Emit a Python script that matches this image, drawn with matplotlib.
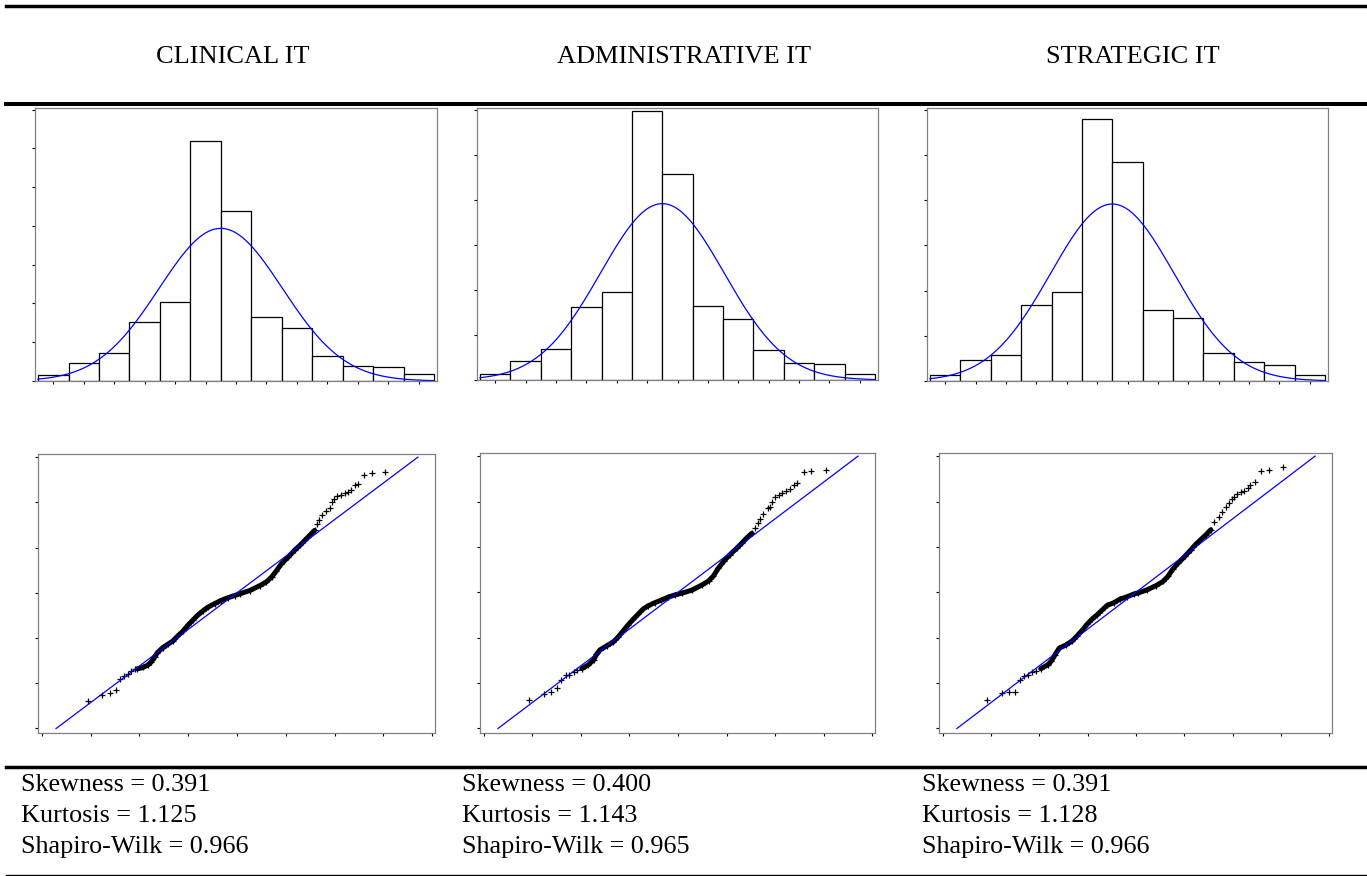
import numpy as np
import matplotlib
matplotlib.use("Agg")
import matplotlib.pyplot as plt
from matplotlib.lines import Line2D

# --- dados ---------------------------------------------------------------
groups = ["CLINICAL IT", "ADMINISTRATIVE IT", "STRATEGIC IT"]

# centros das classes do histograma (escala 1-7, classes de 0.5)
bin_centers = [1.0, 1.5, 2.0, 2.5, 3.0, 3.5, 4.0, 4.5, 5.0, 5.5, 6.0, 6.5, 7.0]

# percentual por classe
clinical_pct = [0.73, 2.37, 3.57, 7.58, 10.16, 31.01, 21.88, 8.27, 6.85, 3.19, 1.98, 1.81, 0.95]
admin_pct = [0.70, 2.07, 3.48, 8.07, 9.81, 29.93, 22.89, 8.22, 6.81, 3.33, 1.93, 1.74, 0.70]
strategic_pct = [0.70, 2.28, 2.84, 8.39, 9.83, 29.05, 24.19, 7.88, 7.00, 3.13, 2.10, 1.77, 0.70]

# curva normal ajustada (media, desvio)
fit_mean = [3.75, 3.75, 3.75]
fit_sd = [1.013, 1.018, 1.018]
hist_ymax = [35, 30, 30]

# Q-Q plot: quantis teoricos (x) vs valores observados (y)
# caudas (pontos esparsos) e faixa central (pontos sobrepostos)
clin_low_x = [-3.06, -2.77, -2.60, -2.49, -2.39, -2.31, -2.24, -2.17, -2.10]
clin_low_y = [1.60, 1.74, 1.79, 1.86, 2.10, 2.16, 2.21, 2.27, 2.31]
clin_mid_x = [-2.04, -1.93, -1.83, -1.76, -1.69, -1.63, -1.52, -1.42, -1.32, -1.22, -1.11,
              -1.01, -0.91, -0.81, -0.70, -0.60, -0.46, -0.33, -0.19, -0.05, 0.06, 0.26,
              0.47, 0.60, 0.71, 0.81, 0.91, 1.05, 1.18, 1.29, 1.39, 1.49, 1.59]
clin_mid_y = [2.32, 2.35, 2.40, 2.47, 2.58, 2.68, 2.79, 2.86, 2.93, 3.04, 3.15,
              3.28, 3.39, 3.50, 3.60, 3.68, 3.76, 3.83, 3.89, 3.94, 3.98, 4.05,
              4.16, 4.24, 4.35, 4.49, 4.64, 4.79, 4.94, 5.05, 5.16, 5.27, 5.38]
clin_high_x = [1.64, 1.68, 1.75, 1.83, 1.90, 1.94, 1.98, 2.05, 2.14, 2.21, 2.28, 2.33,
               2.41, 2.48, 2.60, 2.76, 3.04]
clin_high_y = [5.53, 5.62, 5.71, 5.80, 5.88, 6.00, 6.08, 6.14, 6.17, 6.20, 6.24, 6.28,
               6.39, 6.41, 6.61, 6.66, 6.68]

adm_low_x = [-3.06, -2.77, -2.61, -2.50, -2.41, -2.31, -2.24, -2.15, -2.09]
adm_low_y = [1.62, 1.77, 1.81, 1.90, 2.07, 2.17, 2.18, 2.25, 2.29]
adm_mid_x = [-1.98, -1.85, -1.74, -1.68, -1.61, -1.47, -1.33, -1.23, -1.13, -1.03, -0.92,
             -0.82, -0.72, -0.62, -0.48, -0.34, -0.21, -0.07, 0.08, 0.29, 0.49, 0.63,
             0.73, 0.83, 0.94, 1.07, 1.21, 1.31, 1.41, 1.52]
adm_mid_y = [2.32, 2.40, 2.51, 2.63, 2.73, 2.82, 2.91, 3.02, 3.15, 3.28, 3.41,
             3.52, 3.63, 3.70, 3.77, 3.83, 3.89, 3.94, 3.98, 4.05, 4.16, 4.25,
             4.36, 4.53, 4.68, 4.83, 4.97, 5.08, 5.19, 5.30]
adm_high_x = [1.59, 1.64, 1.69, 1.76, 1.85, 1.90, 1.94, 2.00, 2.08, 2.15, 2.22, 2.30,
              2.39, 2.46, 2.59, 2.75, 3.04]
adm_high_y = [5.41, 5.53, 5.62, 5.72, 5.86, 5.89, 5.99, 6.11, 6.15, 6.19, 6.24, 6.28,
              6.36, 6.41, 6.66, 6.68, 6.69]

str_low_x = [-3.08, -2.78, -2.62, -2.50, -2.41, -2.32, -2.24, -2.16, -2.07]
str_low_y = [1.62, 1.79, 1.80, 1.80, 2.07, 2.15, 2.18, 2.25, 2.27]
str_mid_x = [-1.97, -1.83, -1.75, -1.68, -1.59, -1.45, -1.32, -1.22, -1.11, -1.01, -0.91,
             -0.81, -0.70, -0.60, -0.46, -0.33, -0.19, -0.05, 0.05, 0.22, 0.42, 0.56,
             0.66, 0.77, 0.87, 1.01, 1.14, 1.24, 1.35, 1.45, 1.55]
str_mid_y = [2.32, 2.40, 2.49, 2.62, 2.77, 2.84, 2.93, 3.04, 3.17, 3.30, 3.41,
             3.50, 3.61, 3.71, 3.77, 3.85, 3.90, 3.96, 3.99, 4.05, 4.15, 4.24,
             4.35, 4.52, 4.64, 4.79, 4.94, 5.06, 5.17, 5.27, 5.38]
str_high_x = [1.62, 1.71, 1.79, 1.86, 1.93, 1.98, 2.03, 2.10, 2.17, 2.24, 2.31, 2.37,
              2.46, 2.59, 2.75, 3.05]
str_high_y = [5.56, 5.67, 5.78, 5.87, 5.97, 6.06, 6.11, 6.17, 6.20, 6.24, 6.30, 6.36,
              6.42, 6.68, 6.69, 6.76]

# reta de referencia do Q-Q plot: y = qq_mean + qq_slope * x
qq_mean = 4.0
qq_slope = 0.809
qq_line_x = [-3.71, 3.71]

skewness = [0.391, 0.400, 0.391]
kurtosis = [1.125, 1.143, 1.128]
shapiro = [0.966, 0.965, 0.966]

# --- figura --------------------------------------------------------------
W, H = 1367, 876
fig = plt.figure(figsize=(W / 100, H / 100), dpi=100)
serif = "Liberation Serif"


def px_axes(x0, y0, x1, y1):
    return fig.add_axes([x0 / W, 1 - y1 / H, (x1 - x0) / W, (y1 - y0) / H])


def style(ax):
    for s in ax.spines.values():
        s.set_color("#808080")
        s.set_linewidth(0.9)
    ax.tick_params(direction="out", length=2.3, width=0.8, color="black",
                   labelleft=False, labelbottom=False, top=False, right=False)


def hline(y, lw, x0=6):
    fig.add_artist(Line2D([x0 / W, 1], [1 - y / H, 1 - y / H], lw=lw,
                          color="black", transform=fig.transFigure))


hist_boxes = [(35, 108, 437, 381), (477, 108, 878, 380), (927, 108, 1328, 381)]
qq_boxes = [(38, 454, 435, 733), (480, 453, 875, 733), (939, 453, 1332, 733)]
hist_data = [clinical_pct, admin_pct, strategic_pct]
qq_data = [
    (clin_low_x, clin_low_y, clin_mid_x, clin_mid_y, clin_high_x, clin_high_y),
    (adm_low_x, adm_low_y, adm_mid_x, adm_mid_y, adm_high_x, adm_high_y),
    (str_low_x, str_low_y, str_mid_x, str_mid_y, str_high_x, str_high_y),
]
header_x = [233, 684, 1133]
text_x = [21, 462, 922]

bw = 0.5
for i in range(3):
    # histograma com curva normal
    ax = px_axes(*hist_boxes[i])
    ax.bar(bin_centers, hist_data[i], width=bw, color="white",
           edgecolor="black", linewidth=0.9)
    xs = np.linspace(bin_centers[0] - bw / 2, bin_centers[-1] + bw / 2, 300)
    pdf = np.exp(-0.5 * ((xs - fit_mean[i]) / fit_sd[i]) ** 2) / (fit_sd[i] * np.sqrt(2 * np.pi))
    ax.plot(xs, 100 * bw * pdf, color="blue", lw=0.9)
    ax.set_xlim(bin_centers[0] - bw / 2 - 0.05, bin_centers[-1] + bw / 2 + 0.05)
    ax.set_ylim(0, hist_ymax[i] + 0.22)
    ax.set_xticks(bin_centers)
    ax.set_yticks(np.arange(0, hist_ymax[i] + 1, 5))
    style(ax)

    # Q-Q plot
    lx, ly, mx, my, hx, hy = qq_data[i]
    ax = px_axes(*qq_boxes[i])
    ax.plot(mx, my, color="black", lw=3.6, solid_capstyle="round", zorder=2)
    for px_, py_ in ((lx, ly), (mx, my), (hx, hy)):
        ax.plot(px_, py_, "+", color="black", ms=4.8, mew=0.9, zorder=3)
    ax.plot(qq_line_x, [qq_mean + qq_slope * v for v in qq_line_x],
            color="blue", lw=0.9, zorder=4)
    ax.set_xlim(-4.08, 4.06)
    ax.set_ylim(0.90, 7.07)
    ax.set_xticks(range(-4, 5))
    ax.set_yticks(range(1, 8))
    style(ax)

    # cabecalho e estatisticas
    fig.text(header_x[i] / W, 1 - 57 / H, groups[i], ha="center", va="center",
             fontsize=19, family=serif)
    stats = ["Skewness = %.3f" % skewness[i], "Kurtosis = %.3f" % kurtosis[i],
             "Shapiro-Wilk = %.3f" % shapiro[i]]
    for k, t in enumerate(stats):
        fig.text(text_x[i] / W, 1 - (785 + 31 * k) / H, t, ha="left", va="center",
                 fontsize=18.8, family=serif)

# linhas da tabela
hline(5.7, 2.5)
hline(103.7, 2.9)
hline(766.7, 2.5)
hline(874.8, 1.0)

fig.savefig("out.png", dpi=100)
